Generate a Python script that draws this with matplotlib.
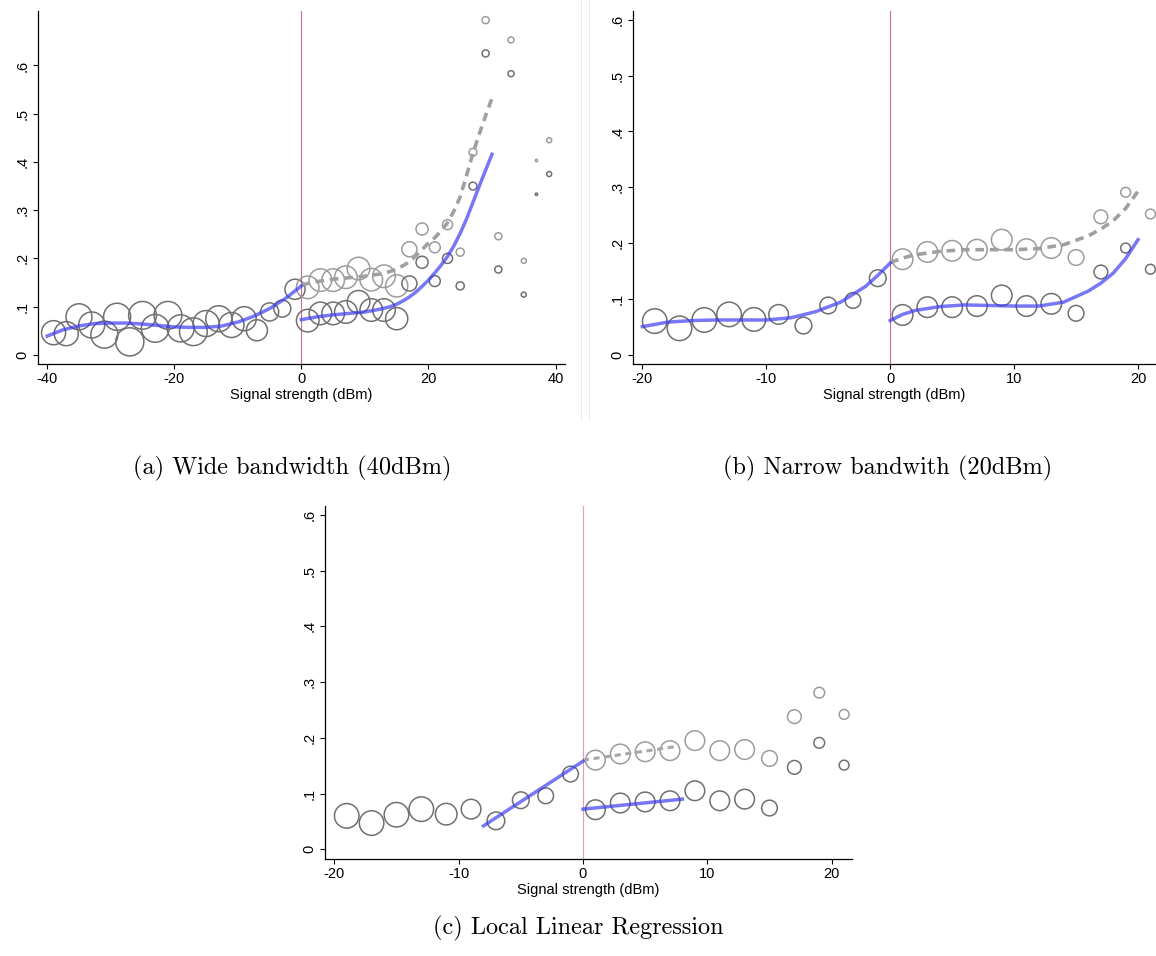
import numpy as np
import matplotlib
matplotlib.use("Agg")
import matplotlib.pyplot as plt

plt.rcParams["font.family"] = ["Liberation Sans", "DejaVu Sans"]
plt.rcParams["axes.unicode_minus"] = False

# ---------------- panel (a): wide bandwidth ----------------
xa_left = [-39, -37, -35, -33, -31, -29, -27, -25, -23, -21,
           -19, -17, -15, -13, -11, -9, -7, -5, -3, -1]
ya_left = [0.046, 0.044, 0.079, 0.062, 0.042, 0.079, 0.027, 0.082, 0.055, 0.082,
           0.055, 0.048, 0.065, 0.075, 0.062, 0.075, 0.051, 0.089, 0.096, 0.136]
na_left = [300, 300, 350, 350, 380, 380, 410, 400, 400, 400,
           380, 400, 350, 350, 325, 300, 230, 170, 150, 210]

xa_right = [1, 3, 5, 7, 9, 11, 13, 15, 17, 19,
            21, 23, 25, 27, 29, 31, 33, 35, 37, 39]
ya_dark = [0.071, 0.086, 0.086, 0.089, 0.110, 0.093, 0.093, 0.075, 0.148, 0.192,
           0.153, 0.200, 0.143, 0.350, 0.625, 0.177, 0.583, 0.125, 0.333, 0.375]
ya_light = [0.140, 0.155, 0.155, 0.161, 0.179, 0.156, 0.163, 0.143, 0.219, 0.261,
            0.223, 0.270, 0.213, 0.420, 0.694, 0.246, 0.653, 0.195, 0.403, 0.445]
na_right = [265, 265, 265, 265, 265, 265, 265, 255, 118, 76,
            62, 52, 34, 32, 26, 26, 19, 13, 3, 13]

fa_left_x = [-40, -37.5, -35, -32.5, -30, -27.5, -25, -22.5, -20,
             -17.5, -15, -12.5, -10, -7.5, -5, -2.5, 0]
fa_left_y = [0.039, 0.052, 0.060, 0.065, 0.066, 0.066, 0.064, 0.061, 0.058,
             0.057, 0.057, 0.060, 0.068, 0.080, 0.096, 0.117, 0.143]
fa_right_x = [0, 2.5, 5, 7.5, 10, 12.5, 14, 15, 16, 17, 18, 19, 20,
              21, 22, 23, 24, 25, 26, 27, 28, 29, 30]
fa_right_y = [0.073, 0.079, 0.083, 0.086, 0.089, 0.095, 0.100, 0.105, 0.112,
              0.120, 0.130, 0.142, 0.155, 0.170, 0.186, 0.204, 0.226, 0.252,
              0.282, 0.316, 0.350, 0.383, 0.416]
fa_dash_y = [0.145, 0.152, 0.157, 0.160, 0.163, 0.168, 0.173, 0.178, 0.185,
             0.193, 0.205, 0.218, 0.232, 0.243, 0.257, 0.274, 0.298, 0.328,
             0.372, 0.418, 0.458, 0.496, 0.532]

# ---------------- panel (b): narrow bandwidth ----------------
xb_left = [-19, -17, -15, -13, -11, -9, -7, -5, -3, -1]
yb_left = [0.060, 0.047, 0.062, 0.072, 0.063, 0.072, 0.052, 0.088, 0.097, 0.137]
nb_left = [312, 312, 312, 312, 288, 200, 145, 145, 128, 145]

xb_right = [1, 3, 5, 7, 9, 11, 13, 15, 17, 19, 21]
yb_dark = [0.071, 0.085, 0.085, 0.087, 0.106, 0.087, 0.091, 0.074, 0.148, 0.191, 0.153]
yb_light = [0.171, 0.184, 0.186, 0.188, 0.206, 0.189, 0.191, 0.174, 0.247, 0.291, 0.252]
nb_right = [220, 220, 220, 220, 220, 220, 220, 128, 98, 50, 50]

fb_left_x = [-20, -18, -16, -14, -12, -10, -8, -6, -4, -2, -1, 0]
fb_left_y = [0.050, 0.058, 0.061, 0.062, 0.062, 0.062, 0.066, 0.077,
             0.094, 0.122, 0.142, 0.164]
fb_right_x = [0, 1, 2, 4, 6, 8, 10, 12, 14, 16, 17, 18, 19, 20]
fb_right_y = [0.061, 0.072, 0.079, 0.086, 0.089, 0.088, 0.087, 0.087,
              0.094, 0.114, 0.128, 0.146, 0.172, 0.206]
fb_dash_y = [0.165, 0.173, 0.179, 0.185, 0.188, 0.188, 0.188, 0.190,
             0.197, 0.213, 0.225, 0.240, 0.262, 0.293]

# ---------------- panel (c): local linear regression ----------------
xc_left = [-19, -17, -15, -13, -11, -9, -7, -5, -3, -1]
yc_left = [0.060, 0.047, 0.062, 0.072, 0.063, 0.072, 0.051, 0.088, 0.096, 0.135]
nc_left = [312, 312, 312, 312, 242, 200, 162, 145, 128, 128]

xc_right = [1, 3, 5, 7, 9, 11, 13, 15, 17, 19, 21]
yc_dark = [0.071, 0.083, 0.085, 0.087, 0.105, 0.087, 0.090, 0.074, 0.147, 0.191, 0.151]
yc_light = [0.160, 0.171, 0.175, 0.177, 0.195, 0.177, 0.179, 0.163, 0.238, 0.281, 0.242]
nc_right = [200, 200, 200, 200, 200, 200, 200, 128, 98, 60, 50]

fc_left_x = [-8, 0]
fc_left_y = [0.042, 0.158]
fc_right_x = [0, 8]
fc_right_y = [0.072, 0.090]
fc_dash_x = [0, 7.7]
fc_dash_y = [0.160, 0.185]

ytick_vals = [0, 0.1, 0.2, 0.3, 0.4, 0.5, 0.6]
ytick_labels = ["0", ".1", ".2", ".3", ".4", ".5", ".6"]

DARK = "#707070"
LIGHT = "#9c9c9c"
BLUE = (0.22, 0.22, 0.95)


def style_axes(ax, xticks, xlim, ylim):
    ax.set_xlim(*xlim)
    ax.set_ylim(*ylim)
    for s in ("top", "right"):
        ax.spines[s].set_visible(False)
    for s in ("left", "bottom"):
        ax.spines[s].set_linewidth(0.9)
    ax.set_xticks(xticks)
    ax.set_yticks(ytick_vals, ytick_labels, rotation=90, va="center")
    ax.tick_params(direction="out", length=3.5, width=0.8, labelsize=10.5, pad=2.5)
    ax.set_xlabel("Signal strength (dBm)", fontsize=10.5, labelpad=1)


def scatter(ax, x, y, n, color):
    ax.scatter(x, y, s=n, facecolors="none", edgecolors=color, linewidths=1.1, zorder=2)


fig = plt.figure(figsize=(11.56, 9.56), dpi=100)

# faint frame edge between the two top images
for xf in (581 / 1156, 589 / 1156):
    fig.add_artist(plt.Line2D([xf, xf], [1 - 420 / 956, 1.0], color="#ececec", lw=0.7))

# (a)
ax = fig.add_axes([0.0326, 0.6192, 0.4562, 0.3693])
ax.axvline(0, color="#cc6a9e", lw=0.8, zorder=1)
scatter(ax, xa_left, ya_left, na_left, DARK)
scatter(ax, xa_right, ya_light, na_right, LIGHT)
scatter(ax, xa_right, ya_dark, na_right, DARK)
ax.plot(fa_right_x, fa_dash_y, color="#a0a0a0", lw=2.6, dashes=(2.4, 1.6), zorder=3)
ax.plot(fa_left_x, fa_left_y, color=BLUE, alpha=0.68, lw=2.5, zorder=4)
ax.plot(fa_right_x, fa_right_y, color=BLUE, alpha=0.68, lw=2.5, zorder=4)
style_axes(ax, [-40, -20, 0, 20, 40], (-41.5, 41.5), (-0.019, 0.713))

# (b)
ax = fig.add_axes([0.5473, 0.6192, 0.4527, 0.3693])
ax.axvline(0, color="#cc6a9e", lw=0.8, zorder=1)
scatter(ax, xb_left, yb_left, nb_left, DARK)
scatter(ax, xb_right, yb_light, nb_right, LIGHT)
scatter(ax, xb_right, yb_dark, nb_right, DARK)
ax.plot(fb_right_x, fb_dash_y, color="#a0a0a0", lw=2.6, dashes=(2.4, 1.6), zorder=3)
ax.plot(fb_left_x, fb_left_y, color=BLUE, alpha=0.68, lw=2.5, zorder=4)
ax.plot(fb_right_x, fb_right_y, color=BLUE, alpha=0.68, lw=2.5, zorder=4)
style_axes(ax, [-20, -10, 0, 10, 20], (-20.78, 21.45), (-0.017, 0.616))

# (c)
ax = fig.add_axes([0.2811, 0.1015, 0.4562, 0.3692])
ax.axvline(0, color="#d8a2c4", lw=0.9, zorder=1)
scatter(ax, xc_left, yc_left, nc_left, DARK)
scatter(ax, xc_right, yc_light, nc_right, LIGHT)
scatter(ax, xc_right, yc_dark, nc_right, DARK)
ax.plot(fc_dash_x, fc_dash_y, color="#a8a8a8", lw=2.2, dashes=(2.0, 1.5), zorder=3)
ax.plot(fc_left_x, fc_left_y, color=BLUE, alpha=0.68, lw=2.5, zorder=4)
ax.plot(fc_right_x, fc_right_y, color=BLUE, alpha=0.68, lw=2.5, zorder=4)
style_axes(ax, [-20, -10, 0, 10, 20], (-20.75, 21.66), (-0.0174, 0.616))

cap = dict(family=["cmr10", "DejaVu Serif"], fontsize=17.5, ha="center", va="center")
fig.text(292 / 1156, 1 - 468 / 956, "(a) Wide bandwidth (40dBm)", **cap)
fig.text(888 / 1156, 1 - 468 / 956, "(b) Narrow bandwith (20dBm)", **cap)
fig.text(578 / 1156, 1 - 928 / 956, "(c) Local Linear Regression", **cap)

fig.savefig("out.png", dpi=100, facecolor="white")
